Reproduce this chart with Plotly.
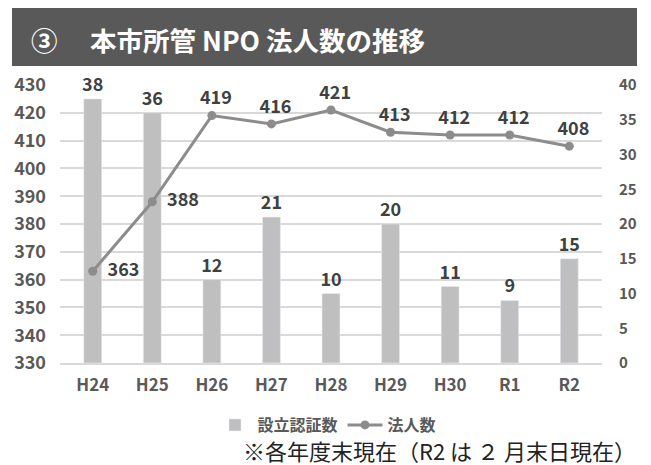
import plotly.graph_objects as go

categories = ["H24", "H25", "H26", "H27", "H28", "H29", "H30", "R1", "R2"]
certified = [38, 36, 12, 21, 10, 20, 11, 9, 15]
corporations = [363, 388, 419, 416, 421, 413, 412, 412, 408]
line_label_pos = ["middle right", "middle right", "top center", "top center", "top center",
                  "top center", "top center", "top center", "top center"]

FONT = "Noto Sans CJK JP"
TXT = "#404040"
TICK = "#595959"

# page renders figure at an 8px body offset; figure coords = screen - 8
W, H = 643, 457
L, T, PW, PH = 52, 77, 542, 278
R, B = W - L - PW, H - T - PH


def px(xf):
    return (xf - L) / PW


def py(yf):
    return (T + PH - yf) / PH


fig = go.Figure()
fig.add_trace(go.Bar(
    x=categories, y=certified, name="設立認証数", yaxis="y",
    marker=dict(color="#bfbfbf"), width=0.3,
    text=[str(v) for v in certified], textposition="outside",
    constraintext="none",
    textfont=dict(family=FONT, size=18, color=TXT, weight="bold"),
    cliponaxis=False,
))
fig.add_trace(go.Scatter(
    x=categories, y=corporations, name="法人数", yaxis="y2",
    mode="lines+markers+text",
    line=dict(color="#8c8c8c", width=3),
    marker=dict(color="#8c8c8c", size=9),
    text=["\u00a0\u00a0" + str(v) for v in corporations],
    textposition=line_label_pos,
    textfont=dict(family=FONT, size=18, color=TXT, weight="bold"),
    cliponaxis=False,
))

fig.update_layout(
    width=W, height=H,
    margin=dict(l=L, r=R, t=T, b=B, autoexpand=False),
    paper_bgcolor="white", plot_bgcolor="white",
    font=dict(family=FONT, color=TICK),
    showlegend=True,
    legend=dict(orientation="h", x=px(327 - 8), xanchor="center", y=py(425 - 8), yanchor="middle",
                font=dict(family=FONT, size=16, color=TICK, weight="bold"),
                traceorder="normal", itemwidth=35),
    xaxis=dict(showgrid=False, showline=True, linecolor="#d9d9d9", linewidth=1.5,
               tickfont=dict(family=FONT, size=17, color=TICK, weight="bold"), ticks="",
               ticklabelstandoff=6),
    yaxis=dict(side="right", range=[0, 40], dtick=5, showgrid=False, zeroline=False,
               tickfont=dict(family=FONT, size=15, color=TICK, weight="bold"), ticks="",
               ticklabelstandoff=16),
    yaxis2=dict(overlaying="y", side="left", range=[330, 430], dtick=10, showgrid=True,
                gridcolor="#d9d9d9", gridwidth=1.5, zeroline=False,
                tickfont=dict(family=FONT, size=18, color=TICK, weight="bold"), ticks="",
                ticklabelstandoff=13),
    bargap=0.7,
    shapes=[dict(type="rect", xref="paper", yref="paper",
                 x0=px(12 - 8), x1=px(637 - 8), y0=py(66 - 8), y1=py(-5),
                 fillcolor="#595959", line=dict(width=0), layer="below")],
    annotations=[
        dict(text="③　 本市所管 NPO 法人数の推移", xref="paper", yref="paper",
             x=px(29 - 8), y=py(40 - 8), xanchor="left", yanchor="middle",
             showarrow=False, font=dict(family=FONT, size=26.5, color="white", weight="bold")),
        dict(text="※各年度末現在（R2 は ２ 月末日現在）", xref="paper", yref="paper",
             x=px(638 - 8), y=py(450 - 8), xanchor="right", yanchor="middle",
             showarrow=False, font=dict(family=FONT, size=22, color="#222222")),
    ],
)

fig.write_html("out.html")
